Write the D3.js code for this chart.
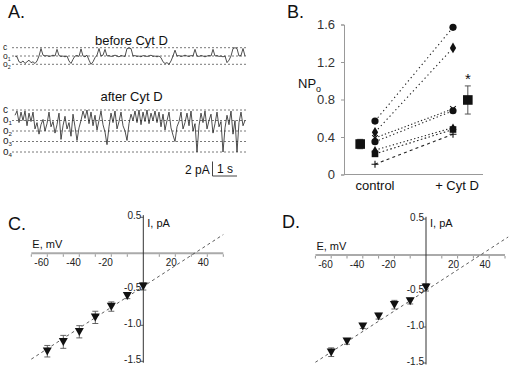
<!DOCTYPE html>
<html><head><meta charset="utf-8">
<script src="https://cdn.jsdelivr.net/npm/d3@7"></script>
<style>body{margin:0;background:#fff}svg{display:block}text{font-family:"Liberation Sans",Arial,sans-serif}</style>
</head><body><svg id="chart" width="510" height="368"></svg>
<script>
// ---------- DATA ----------
const traceLevelsBefore = ["c", "o1", "o2"];
const traceLevelsAfter = ["c", "o1", "o2", "o3", "o4"];
// single-channel current, in units of open levels (0 = closed)
const traceBefore = [1.0,1.1,1.7,1.8,1.6,1.9,1.7,1.5,1.8,1.7,1.9,1.6,1.0,0.1,0.9,1.0,0.95,1.05,1.0,0.9,1.0,0.2,0.95,1.05,1.0,1.1,1.0,1.6,1.9,1.4,1.0,0.95,1.05,0.15,1.0,1.1,0.9,1.5,2.0,1.7,1.2,0.9,0.1,1.0,0.9,0.2,1.0,0.95,1.05,1.0,0.9,1.0,1.1,0.95,1.0,1.05,0.1,0.05,0.1,1.0,0.95,1.05,1.0,1.1,0.95,1.0,1.05,1.0,0.9,1.05,1.0,1.1,1.0,1.2,1.7,1.9,1.8,2.0,1.6,1.0,0.3,1.0,0.95,1.05,1.0,0.9,1.0,1.05,0.95,1.0,0.2,1.0,1.05,0.95,1.0,1.1,1.0,0.95,1.0,0.2,1.0,0.95,1.05,1.0,1.1,1.0,1.8,1.5,1.0,0.1,0.0,0.1,1.0,0.95,0.1,1.0];
const traceAfter = [0.5,0.1,1.2,0.2,1.0,0.1,1.5,0.3,1.1,0.2,1.8,1.2,2.3,1.4,0.9,2.0,1.3,0.2,1.6,1.1,2.2,1.4,0.3,2.8,1.5,0.6,1.8,1.2,2.5,0.4,1.6,2.9,1.7,1.0,0.1,0.8,0.0,1.3,0.2,1.5,0.5,1.9,1.0,0.1,1.4,2.1,3.3,1.6,0.3,1.2,0.1,1.8,1.1,0.2,1.5,2.0,2.9,1.3,0.4,1.0,0.1,1.2,0.0,1.4,0.2,1.1,0.0,1.3,0.3,1.0,0.1,1.2,0.2,1.6,0.4,1.9,1.0,0.2,1.7,2.4,3.0,1.6,1.1,0.2,1.8,1.2,0.3,1.5,0.1,2.0,1.3,4.0,1.5,0.3,1.2,0.1,1.8,1.0,0.4,2.2,1.3,0.2,1.6,1.1,4.0,1.7,0.5,1.4,0.1,2.3,1.0,4.0,1.2,0.2,1.5,1.0];

const npoGroups = ["control", "+ Cyt D"];
const npoControl = [0.57, 0.45, 0.39, 0.35, 0.26, 0.22, 0.11];
const npoCytD    = [1.57, 1.35, 0.70, 0.68, 0.50, 0.48, 0.43];
const npoMarkers = ["circle", "diamond", "x", "circle", "triangle", "square", "plus"];
const npoMean = [0.325, 0.795];
const npoErr  = [0.05, 0.15];
const npoTicks = [0, 0.4, 0.8, 1.2, 1.6];

const ivVoltage = [-60, -50, -40, -30, -20, -10, 0];
const ivCurrentC = [-1.36, -1.23, -1.09, -0.89, -0.74, -0.59, -0.46];
const ivErrC     = [0.08, 0.09, 0.085, 0.085, 0.065, 0.04, 0.05];
const ivCurrentD = [-1.35, -1.20, -0.99, -0.85, -0.69, -0.64, -0.45];
const ivErrD     = [0.06, 0.04, 0.03, 0.04, 0.06, 0.04, 0.05];
const ivFitC = [[-70, -1.47], [50, 0.26]];
const ivFitD = [[-70, -1.49], [52, 0.25]];
const ivXTicks = [-60, -40, -20, 20, 40];
const ivYTicks = [0.5, -0.5, -1.0, -1.5];

// ---------- DRAW ----------
const svg = d3.select("#chart");
svg.append("rect").attr("width", 510).attr("height", 368).attr("fill", "#fff");

function letter(t, x, y) {
  svg.append("text").attr("x", x).attr("y", y).attr("font-size", 18).attr("fill", "#111").text(t);
}

// ---- Panel A ----
letter("A.", 8, 17.5);
function drawTrace(levels, data, y0, y1, title, titleY, fs) {
  const g = svg.append("g");
  const x = d3.scaleLinear().domain([0, data.length - 1]).range([15, 245]);
  const y = d3.scaleLinear().domain([0, levels.length - 1]).range([y0, y1]);
  g.append("text").attr("x", 131.5).attr("y", titleY).attr("text-anchor", "middle")
    .attr("font-size", 13).attr("fill", "#111").text(title);
  levels.forEach((lv, i) => {
    g.append("line").attr("x1", 12).attr("x2", 246).attr("y1", y(i)).attr("y2", y(i))
      .attr("stroke", "#555").attr("stroke-width", 0.8).attr("stroke-dasharray", "2,2");
    const t = g.append("text").attr("x", 3).attr("y", y(i) + 2.5).attr("font-size", fs).attr("fill", "#222");
    t.append("tspan").text(lv[0]);
    if (lv.length > 1) t.append("tspan").attr("dy", 2).attr("font-size", fs * 0.62).text(lv.slice(1));
  });
  g.append("path").datum(data)
    .attr("d", d3.line().x((d, i) => x(i)).y(d => y(d)))
    .attr("fill", "none").attr("stroke", "#222").attr("stroke-width", 0.8);
}
drawTrace(traceLevelsBefore, traceBefore, 47.7, 64.3, "before Cyt D", 44.5, 8.5);
drawTrace(traceLevelsAfter, traceAfter, 110, 152, "after Cyt D", 101, 10);

// scale bar
svg.append("text").attr("x", 185).attr("y", 174).attr("font-size", 12).attr("fill", "#111").text("2 pA");
svg.append("path").attr("d", "M212.5,161.5V176H237").attr("fill", "none").attr("stroke", "#444").attr("stroke-width", 1);
svg.append("text").attr("x", 217).attr("y", 173).attr("font-size", 12).attr("fill", "#111").text("1 s");

// ---- Panel B ----
letter("B.", 287, 17.5);
const xB = d3.scaleLinear().domain([0, 1]).range([375, 453]);
const yB = d3.scaleLinear().domain([0, 1.6]).range([174.5, 24.5]);
const gB = svg.append("g");
gB.append("line").attr("x1", 344).attr("x2", 483).attr("y1", yB(0)).attr("y2", yB(0)).attr("stroke", "#999");
const ax = gB.append("g").attr("transform", "translate(344,0)")
  .call(d3.axisLeft(yB).tickValues(npoTicks).tickSize(3).tickPadding(6)
    .tickFormat(d => d === 0 ? "0" : d.toFixed(1)));
ax.select(".domain").attr("stroke", "#999");
ax.selectAll(".tick line").attr("stroke", "#999");
ax.selectAll(".tick text").attr("font-size", 13).attr("fill", "#333").attr("font-family", "Liberation Sans, Arial, sans-serif");
npoGroups.forEach((gname, i) => {
  gB.append("text").attr("x", xB(i) + (i ? 4 : 0)).attr("y", 190).attr("text-anchor", "middle")
    .attr("font-size", 13).attr("fill", "#111").text(gname);
});
const npoT = gB.append("text").attr("x", 298).attr("y", 87.5).attr("font-size", 13).attr("fill", "#111");
npoT.append("tspan").text("NP");
npoT.append("tspan").attr("dy", 4).attr("font-size", 9).text("o");

const dashes = ["1.3,3", "1.3,3", "1.3,2.2", "1.3,2.6", "1.3,2.4", "1.6,2.4", "3,3.2"];
npoControl.forEach((c, i) => {
  gB.append("line").attr("x1", xB(0)).attr("y1", yB(c)).attr("x2", xB(1)).attr("y2", yB(npoCytD[i]))
    .attr("stroke", "#222").attr("stroke-width", 1.1).attr("stroke-dasharray", dashes[i]);
});
function marker(type, cx, cy) {
  const g = gB.append("g").attr("transform", `translate(${cx},${cy})`);
  if (type === "circle") g.append("circle").attr("r", 3.6).attr("fill", "#111");
  else if (type === "diamond") g.append("path").attr("d", d3.symbol(d3.symbolDiamond, 34)()).attr("fill", "#111");
  else if (type === "square") g.append("path").attr("d", d3.symbol(d3.symbolSquare, 44)()).attr("fill", "#111");
  else if (type === "triangle") g.append("path").attr("d", d3.symbol(d3.symbolTriangle, 22)()).attr("fill", "#111");
  else if (type === "x") g.append("path").attr("d", "M-2.8,-2.8L2.8,2.8M-2.8,2.8L2.8,-2.8").attr("stroke", "#111").attr("stroke-width", 1.1);
  else if (type === "plus") g.append("path").attr("d", "M-3.5,0H3.5M0,-3.5V3.5").attr("stroke", "#111").attr("stroke-width", 1.1);
}
npoControl.forEach((c, i) => {
  marker(npoMarkers[i], xB(0), yB(c));
  marker(npoMarkers[i], xB(1), yB(npoCytD[i]));
});
// means
npoMean.forEach((m, i) => {
  const cx = xB(i === 0 ? -0.19 : 1.19);
  gB.append("path").attr("d", `M${cx},${yB(m + npoErr[i])}V${yB(m - npoErr[i])}M${cx - 3},${yB(m + npoErr[i])}H${cx + 3}M${cx - 3},${yB(m - npoErr[i])}H${cx + 3}`)
    .attr("stroke", "#555").attr("stroke-width", 1).attr("fill", "none");
  gB.append("rect").attr("x", cx - 4.8).attr("y", yB(m) - 4.8).attr("width", 9.6).attr("height", 9.6).attr("fill", "#111");
});
gB.append("text").attr("x", xB(1.19)).attr("y", 84).attr("text-anchor", "middle").attr("font-size", 15).attr("fill", "#111").text("*");

// ---- Panels C & D ----
function drawIV(label, lx, ly, x0, k, y0, cur, err, fit) {
  letter(label, lx, ly);
  const g = svg.append("g");
  const xs = d3.scaleLinear().domain([-70, 50]).range([x0 - 70 * k, x0 + 50 * k]);
  const ys = d3.scaleLinear().domain([-1.5, 0.5]).range([y0 + 108, y0 - 36]);
  // horizontal axis
  g.append("line").attr("x1", xs(-70)).attr("x2", xs(50)).attr("y1", ys(0)).attr("y2", ys(0))
    .attr("stroke", "#aaa").attr("stroke-width", 2);
  d3.range(-70, 51, 10).forEach(v => {
    if (v === 0) return;
    g.append("line").attr("x1", xs(v)).attr("x2", xs(v)).attr("y1", ys(0) + 1).attr("y2", ys(0) + 3.5)
      .attr("stroke", "#777").attr("stroke-width", 0.8);
  });
  ivXTicks.forEach(v => {
    g.append("text").attr("x", xs(v) + 1.5).attr("y", ys(0) + 13).attr("text-anchor", "end")
      .attr("font-size", 10).attr("fill", "#222").text(v < 0 ? "-" + Math.abs(v) : v);
  });
  // vertical axis
  g.append("line").attr("x1", xs(0)).attr("x2", xs(0)).attr("y1", ys(0.53)).attr("y2", ys(-1.52))
    .attr("stroke", "#333").attr("stroke-width", 1);
  ivYTicks.forEach(t => {
    g.append("line").attr("x1", xs(0) - 3).attr("x2", xs(0)).attr("y1", ys(t)).attr("y2", ys(t)).attr("stroke", "#333").attr("stroke-width", 0.8);
    g.append("text").attr("x", xs(0) - 2).attr("y", ys(t) + 2).attr("text-anchor", "end")
      .attr("font-size", 10).attr("fill", "#222").text(t.toFixed(1));
  });
  g.append("text").attr("x", xs(0) + 4).attr("y", 226.5).attr("font-size", 11).attr("fill", "#111").text("I, pA");
  g.append("text").attr("x", xs(-70) + 1).attr("y", ys(0) - 5).attr("font-size", 11).attr("fill", "#111").text("E, mV");
  // fit line
  g.append("path").datum(fit).attr("d", d3.line().x(d => xs(d[0])).y(d => ys(d[1])))
    .attr("fill", "none").attr("stroke", "#333").attr("stroke-width", 0.8).attr("stroke-dasharray", "3,3");
  // error bars + markers
  ivVoltage.forEach((v, i) => {
    const cx = xs(v), top = ys(cur[i] + err[i]), bot = ys(cur[i] - err[i]);
    g.append("path").attr("d", `M${cx},${top}V${bot}M${cx - 3},${top}H${cx + 3}M${cx - 3},${bot}H${cx + 3}`)
      .attr("stroke", "#555").attr("stroke-width", 0.9).attr("fill", "none");
    g.append("path").attr("transform", `translate(${cx},${ys(cur[i])})`)
      .attr("d", "M-4.5,-3.8L4.5,-3.8L0,4.2Z").attr("fill", "#111");
  });
}
drawIV("C.", 8, 229.5, 143.3, 1.6, 253.3, ivCurrentC, ivErrC, ivFitC);
drawIV("D.", 282, 228, 426, 1.58, 255, ivCurrentD, ivErrD, ivFitD);
</script>
</body></html>
